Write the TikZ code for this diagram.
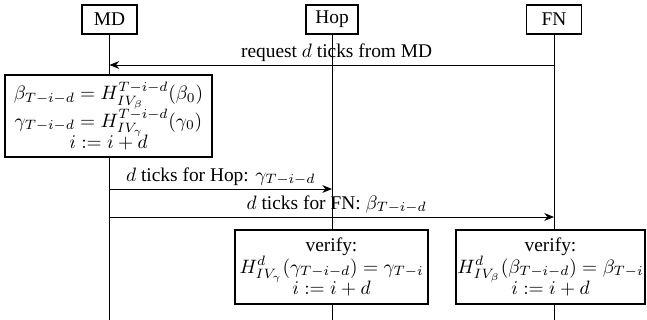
\documentclass[tikz,border=0pt]{standalone}
\usepackage[no-math]{fontspec}
\setmainfont{Liberation Serif}
\usetikzlibrary{arrows.meta}
\begin{document}
\begin{tikzpicture}[x=0.5155pt,y=-0.5155pt, font=\rmfamily,
  actor/.style={draw, line width=0.6pt, fill=white, minimum width={55*0.5155pt}, minimum height={29*0.5155pt}, inner sep=0pt},
  actbox/.style={draw, line width=0.6pt, fill=white, align=center, inner sep=0pt, minimum height={74*0.5155pt}},
  life/.style={line width=0.5pt},
  msg/.style={line width=0.5pt, -{Stealth[length=5pt,width=4pt]}},
  lbl/.style={above, inner sep=1.5pt}]
\useasboundingbox (0,0) rectangle (647,320);
% actors
\node[actor] (md) at (109.5,19.5) {MD};
\node[actor, minimum width={52*0.5155pt}] (hop) at (332,19.5) {Hop};
\node[actor] (fn) at (554,19.5) {FN};
\coordinate (mdend) at (109.5,320);
\coordinate (hopend) at (332,320);
\coordinate (fnend) at (554,320);
\draw[life] (md) -- (mdend);
\draw[life] (hop) -- (hopend);
\draw[life] (fn) -- (fnend);
% request
\coordinate (rq1) at (554,65);
\coordinate (rq2) at (109.5,65);
\draw[msg] (rq1) -- node[lbl, xshift=2.5pt] (rql) {request $d$ ticks from MD} (rq2);
% MD computation
\node[actbox, minimum width={207*0.5155pt}, minimum height={82*0.5155pt}] (calc) at (108.5,116)
  {$\beta_{T-i-d} = H^{T-i-d}_{IV_\beta}(\beta_0)$\\[-1pt]
   $\gamma_{T-i-d} = H^{T-i-d}_{IV_\gamma}(\gamma_0)$\\[-1pt]
   $i := i+d$};
% ticks to Hop
\coordinate (h1) at (109.5,189);
\coordinate (h2) at (332,189);
\draw[msg] (h1) -- node[lbl] (hl) {$d$ ticks for Hop: $\gamma_{T-i-d}$} (h2);
% ticks to FN
\coordinate (f1) at (109.5,217);
\coordinate (f2) at (554,217);
\draw[msg] (f1) -- node[lbl, xshift=2.5pt] (fl) {$d$ ticks for FN: $\beta_{T-i-d}$} (f2);
% verify boxes
\node[actbox, minimum width={193*0.5155pt}] (vh) at (331.5,267)
  {verify:\\[-1pt]
   $H^d_{IV_\gamma}(\gamma_{T-i-d}) = \gamma_{T-i}$\\[-1pt]
   $i := i+d$};
\node[actbox, minimum width={189*0.5155pt}] (vf) at (550.5,267)
  {verify:\\[-1pt]
   $H^d_{IV_\beta}(\beta_{T-i-d}) = \beta_{T-i}$\\[-1pt]
   $i := i+d$};
\end{tikzpicture}
\end{document}
